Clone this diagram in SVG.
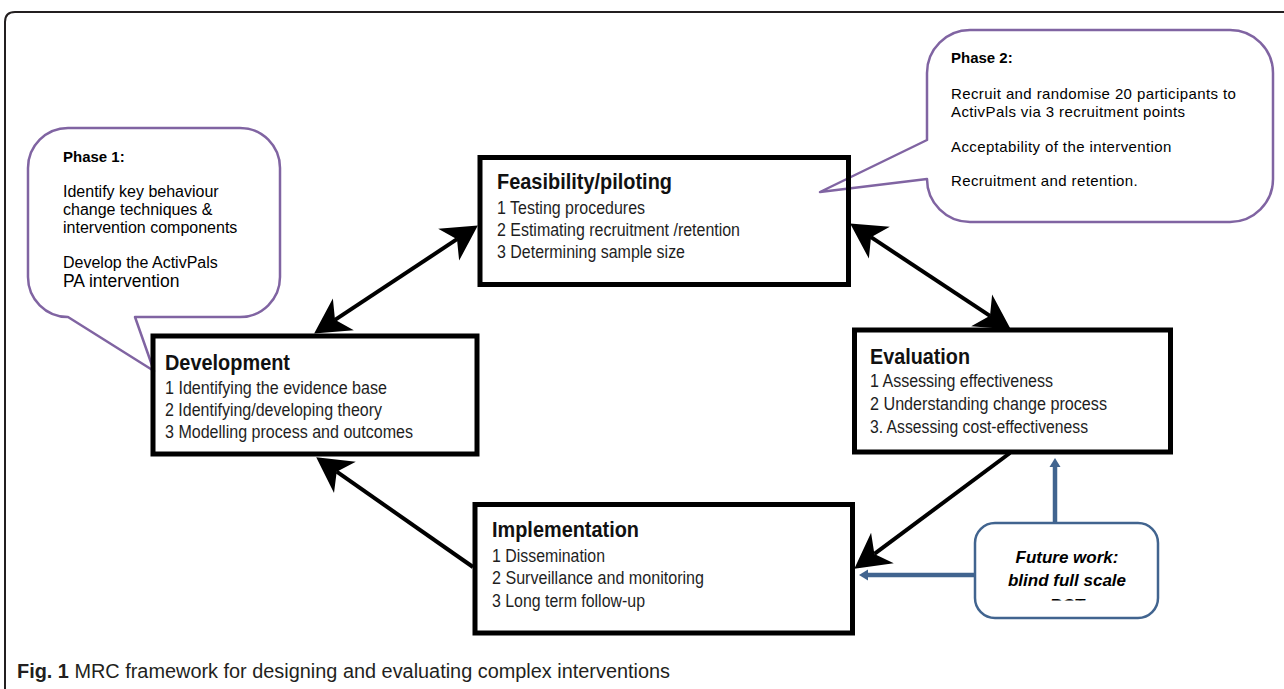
<svg xmlns="http://www.w3.org/2000/svg" width="1284" height="689" viewBox="0 0 1284 689">
<defs>
<style>
.frame{fill:none;stroke:#231F20;stroke-width:2}
.bubble{fill:#fff;stroke:#8064A2;stroke-width:2.5;stroke-linejoin:round}
.box{fill:none;stroke:#000;stroke-width:5}
.fbox{fill:#fff;stroke:#41648F;stroke-width:2.5}
.title{font-family:"Liberation Sans",Arial,sans-serif;font-weight:bold;font-size:21.5px;fill:#111}
.item{font-family:"Liberation Sans",Arial,sans-serif;font-size:17.5px;fill:#1e1e1e}
.btxt{font-family:"Liberation Sans",Arial,sans-serif;font-size:16px;fill:#000}
.b2txt{font-family:"Liberation Sans",Arial,sans-serif;font-size:15px;letter-spacing:0.4px;fill:#000}
.bhead{font-family:"Liberation Sans",Arial,sans-serif;font-size:15px;font-weight:bold;fill:#000}
.ftxt{font-family:"Liberation Sans",Arial,sans-serif;font-size:17px;font-weight:bold;font-style:italic;fill:#000;text-anchor:middle}
.arr{fill:none;stroke:#000;stroke-width:4}
.barr{fill:none;stroke:#41648F;stroke-width:4.5}
.cap{font-family:"Liberation Sans",Arial,sans-serif;font-size:19.5px;fill:#231F20}
</style>
<marker id="ah" markerUnits="userSpaceOnUse" viewBox="-1 -21 38 42" markerWidth="38" markerHeight="42" refX="10" refY="0" orient="auto-start-reverse">
<path d="M35,0 L0,-19 L10,0 L0,19 Z" fill="#000"/>
</marker>
<marker id="bh" markerUnits="userSpaceOnUse" viewBox="-1 -7 11 14" markerWidth="11" markerHeight="14" refX="1" refY="0" orient="auto">
<path d="M9,0 L0,-5.5 L0,5.5 Z" fill="#41648F"/>
</marker>
<clipPath id="fclip"><rect x="975" y="523" width="183" height="77.5"/></clipPath>
</defs>

<path class="frame" d="M5,689 V22 Q5,12 15,12 H1284"/>

<g id="phase1">
<path class="bubble" d="M68,128 H240 A40,40 0 0 1 280,168 V277 A40,40 0 0 1 240,317 H135 L154,371 L68,317 A40,40 0 0 1 28,277 V168 A40,40 0 0 1 68,128 Z"/>
<text class="bhead" x="63" y="162">Phase 1:</text>
<text class="btxt" x="63" y="197">Identify key behaviour</text>
<text class="btxt" x="63" y="215">change techniques &amp;</text>
<text class="btxt" x="63" y="233">intervention components</text>
<text class="btxt" x="63" y="268">Develop the ActivPals</text>
<text class="btxt" x="63" y="287" style="font-size:17.5px">PA intervention</text>
</g>

<g id="phase2">
<path class="bubble" d="M970,30 H1230 A43,43 0 0 1 1273,73 V179 A43,43 0 0 1 1230,222 H970 A43,43 0 0 1 927,179 L820,192 L927,140 V73 A43,43 0 0 1 970,30 Z"/>
<text class="bhead" x="951" y="63">Phase 2:</text>
<text class="b2txt" x="951" y="99">Recruit and randomise 20 participants to</text>
<text class="b2txt" x="951" y="117">ActivPals via 3 recruitment points</text>
<text class="b2txt" x="951" y="152">Acceptability of the intervention</text>
<text class="b2txt" x="951" y="186">Recruitment and retention.</text>
</g>

<g id="connectors">
<line class="arr" x1="335" y1="319.8" x2="457" y2="239.2" marker-start="url(#ah)" marker-end="url(#ah)"/>
<line class="arr" x1="871" y1="237.2" x2="990" y2="315.8" marker-start="url(#ah)" marker-end="url(#ah)"/>
<line class="arr" x1="1010" y1="453" x2="874.4" y2="553.9" marker-end="url(#ah)"/>
<line class="arr" x1="473" y1="567" x2="336.7" y2="471.7" marker-end="url(#ah)"/>
<line class="barr" x1="1055" y1="523" x2="1055" y2="466" marker-end="url(#bh)"/>
<line class="barr" x1="975" y1="575" x2="867" y2="575" marker-end="url(#bh)"/>
</g>

<g id="feasibility">
<rect class="box" x="480" y="157.5" width="368.5" height="127"/>
<text class="title" x="497" y="189" textLength="175" lengthAdjust="spacingAndGlyphs">Feasibility/piloting</text>
<text class="item" x="497" y="214" textLength="148" lengthAdjust="spacingAndGlyphs">1 Testing procedures</text>
<text class="item" x="497" y="236" textLength="243" lengthAdjust="spacingAndGlyphs">2 Estimating recruitment /retention</text>
<text class="item" x="497" y="258" textLength="188" lengthAdjust="spacingAndGlyphs">3 Determining sample size</text>
</g>

<g id="development">
<rect class="box" x="153" y="336" width="324" height="118"/>
<text class="title" x="165" y="370" textLength="125" lengthAdjust="spacingAndGlyphs">Development</text>
<text class="item" x="165" y="394" textLength="222" lengthAdjust="spacingAndGlyphs">1 Identifying the evidence base</text>
<text class="item" x="165" y="416" textLength="217" lengthAdjust="spacingAndGlyphs">2 Identifying/developing theory</text>
<text class="item" x="165" y="438" textLength="248" lengthAdjust="spacingAndGlyphs">3 Modelling process and outcomes</text>
</g>

<g id="evaluation">
<rect class="box" x="854.5" y="330" width="316" height="122"/>
<text class="title" x="870" y="364" textLength="100" lengthAdjust="spacingAndGlyphs">Evaluation</text>
<text class="item" x="870" y="387" textLength="183" lengthAdjust="spacingAndGlyphs">1 Assessing effectiveness</text>
<text class="item" x="870" y="410" textLength="237" lengthAdjust="spacingAndGlyphs">2 Understanding change process</text>
<text class="item" x="870" y="433" textLength="218" lengthAdjust="spacingAndGlyphs">3. Assessing cost-effectiveness</text>
</g>

<g id="implementation">
<rect class="box" x="475" y="504.5" width="377.5" height="128.5"/>
<text class="title" x="492" y="537" textLength="147" lengthAdjust="spacingAndGlyphs">Implementation</text>
<text class="item" x="492" y="562" textLength="113" lengthAdjust="spacingAndGlyphs">1 Dissemination</text>
<text class="item" x="492" y="584" textLength="212" lengthAdjust="spacingAndGlyphs">2 Surveillance and monitoring</text>
<text class="item" x="492" y="607" textLength="153" lengthAdjust="spacingAndGlyphs">3 Long term follow-up</text>
</g>

<g id="future">
<rect class="fbox" x="975" y="523" width="183" height="95" rx="20"/>
<text class="ftxt" x="1067" y="563">Future work:</text>
<text class="ftxt" x="1067" y="586">blind full scale</text>
<text class="ftxt" x="1067" y="611" clip-path="url(#fclip)">RCT</text>
</g>

<g id="caption">
<text class="cap" x="17" y="678" textLength="653" lengthAdjust="spacingAndGlyphs"><tspan font-weight="bold">Fig. 1</tspan> MRC framework for designing and evaluating complex interventions</text>
</g>
</svg>
